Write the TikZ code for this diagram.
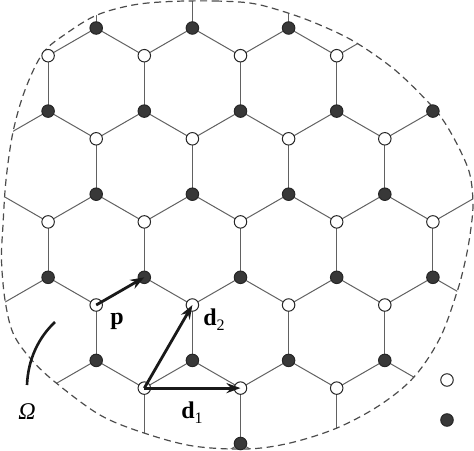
\documentclass[tikz,border=0pt]{standalone}
\usepackage{fontspec}
\setmainfont{Liberation Serif}
\usetikzlibrary{arrows.meta}
\definecolor{edgegray}{gray}{0.38}
\definecolor{bndgray}{gray}{0.3}
\tikzset{
  latedge/.style={draw=edgegray, line width=1pt},
  bnd/.style={draw=bndgray, line width=1.2pt, dash pattern=on 7pt off 4.5pt},
  wnode/.style={circle, draw=black!85, fill=white, line width=1pt, inner sep=0pt, minimum size=12.5pt},
  bnode/.style={circle, draw=black!85, fill=black!78, line width=1pt, inner sep=0pt, minimum size=12.5pt},
  vecarrow/.style={draw=black!90, line width=2.8pt, -{Stealth[length=14pt,width=10pt]}},
  lbl/.style={inner sep=0pt, font=\fontsize{24}{28}\selectfont\bfseries},
}
\begin{document}
\begin{tikzpicture}[x=1pt,y=-1pt]
\useasboundingbox (0,0) rectangle (474,450);
% lattice coordinates
\foreach \k in {0,...,5}{
  \foreach \i in {-1,...,11}{
    \pgfmathsetmacro\xx{48.1*\i}
    \pgfmathsetmacro\yy{28+166.2*(\k-1)}
    \coordinate (A-\k-\i) at (\xx,\yy);
    \coordinate (B-\k-\i) at (\xx,\yy+27.7);
    \coordinate (C-\k-\i) at (\xx,\yy+83.1);
    \coordinate (D-\k-\i) at (\xx,\yy+110.8);
  }
}
% lattice edges, clipped to the region
\begin{scope}
\clip plot[smooth cycle, tension=0.55] coordinates {
 (170,1.5) (215,1) (253,3.5) (288,13) (320,25) (355,42) (395,70) (430,104) (445,123)
 (460,150) (470,175) (473,205) (470,235) (465,262) (457,292) (440,338) (414,377)
 (380,405) (337,428) (290,443) (247,449) (193,446) (144,433) (100,415) (55,382)
 (30,358) (13,333) (5,300) (1.5,260) (3,225) (6,180) (13,132) (25,90) (43,53)
 (67,33) (97,15) (133,5)};
\foreach \k in {0,...,4}{
  \foreach \i in {0,2,...,10}{
    \pgfmathtruncatemacro\im{\i-1}
    \pgfmathtruncatemacro\ip{\i+1}
    \pgfmathtruncatemacro\kn{\k+1}
    \draw[latedge] (B-\k-\im) -- (A-\k-\i) -- (B-\k-\ip);
    \draw[latedge] (C-\k-\im) -- (D-\k-\i) -- (C-\k-\ip);
    \draw[latedge] (D-\k-\i) -- (A-\kn-\i);
  }
  \foreach \i in {-1,1,...,11}{
    \draw[latedge] (B-\k-\i) -- (C-\k-\i);
  }
}
\end{scope}
% boundary
\draw[bnd] plot[smooth cycle, tension=0.55] coordinates {
 (170,1.5) (215,1) (253,3.5) (288,13) (320,25) (355,42) (395,70) (430,104) (445,123)
 (460,150) (470,175) (473,205) (470,235) (465,262) (457,292) (440,338) (414,377)
 (380,405) (337,428) (290,443) (247,449) (193,446) (144,433) (100,415) (55,382)
 (30,358) (13,333) (5,300) (1.5,260) (3,225) (6,180) (13,132) (25,90) (43,53)
 (67,33) (97,15) (133,5)};
% nodes
\foreach \i in {2,4,6}{\node[bnode] (nA-1-\i) at (A-1-\i) {};}
\foreach \i in {1,3,5,7}{\node[wnode] (nB-1-\i) at (B-1-\i) {};}
\foreach \i in {1,3,5,7,9}{\node[bnode] (nC-1-\i) at (C-1-\i) {};}
\foreach \i in {2,4,6,8}{\node[wnode] (nD-1-\i) at (D-1-\i) {};}
\foreach \i in {2,4,6,8}{\node[bnode] (nA-2-\i) at (A-2-\i) {};}
\foreach \i in {1,3,5,7,9}{\node[wnode] (nB-2-\i) at (B-2-\i) {};}
\foreach \i in {1,3,5,7,9}{\node[bnode] (nC-2-\i) at (C-2-\i) {};}
\foreach \i in {2,4,6,8}{\node[wnode] (nD-2-\i) at (D-2-\i) {};}
\foreach \i in {2,4,6,8}{\node[bnode] (nA-3-\i) at (A-3-\i) {};}
\foreach \i in {3,5,7}{\node[wnode] (nB-3-\i) at (B-3-\i) {};}
\node[bnode] (nC-3-5) at (C-3-5) {};
% vectors
\draw[vecarrow] (nD-2-2.center) -- (nC-2-3.center);
\draw[vecarrow] (nB-3-3.center) -- (nD-2-4.center);
\draw[vecarrow] (nB-3-3.center) -- (nB-3-5.center);
% labels
\node[lbl] (lp) at (117,321) {p};
\node[lbl] (ld2) at (214,320) {d\raisebox{-0.22em}{\fontsize{16}{16}\mdseries\selectfont 2}};
\node[lbl] (ld1) at (192,413) {d\raisebox{-0.22em}{\fontsize{16}{16}\mdseries\selectfont 1}};
% Omega pointer
\coordinate (om1) at (55,322);
\coordinate (om2) at (27,385);
\draw[black!90, line width=2.6pt] (om1) .. controls (38,338) and (28,360) .. (om2);
\node[inner sep=0pt, font=\fontsize{24}{28}\selectfont\itshape] (lom) at (27,412) {Ω};
% legend
\node[wnode] (legw) at (447,380) {};
\node[bnode] (legb) at (447,420) {};
\end{tikzpicture}
\end{document}
